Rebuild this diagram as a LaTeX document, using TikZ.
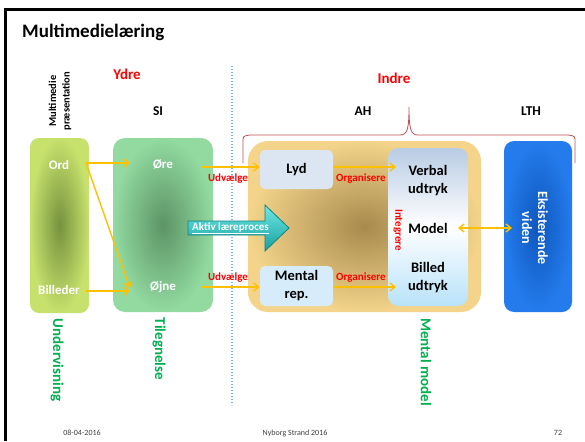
\documentclass[tikz,border=0pt]{standalone}
\usepackage{fontspec}
\setmainfont{Carlito}
\usetikzlibrary{arrows.meta}
\definecolor{orng}{HTML}{FFC000}
\definecolor{redlab}{HTML}{FF0000}
\definecolor{greenlab}{HTML}{00B050}
\definecolor{bracecol}{HTML}{C0504D}
\definecolor{dotblue}{HTML}{6CB8EA}
\definecolor{footgray}{HTML}{404040}
\tikzset{
  lbl/.style={font=\bfseries\fontsize{13.5}{15}\selectfont, text=black, align=center, inner sep=0pt},
  wlbl/.style={font=\bfseries\fontsize{13}{15}\selectfont, text=white, align=center, inner sep=0pt},
  redl/.style={font=\bfseries\fontsize{11}{12}\selectfont, text=redlab, inner sep=0pt},
  bigred/.style={font=\bfseries\fontsize{15}{16}\selectfont, text=redlab, inner sep=0pt},
  greenl/.style={font=\bfseries\fontsize{15}{16}\selectfont, text=greenlab, inner sep=0pt, rotate=-90},
  foot/.style={font=\fontsize{8}{9}\selectfont, text=footgray, inner sep=0pt},
  flow/.style={draw=orng, line width=1.4pt, -{Straight Barb[length=5pt,width=8pt]}},
  dflow/.style={draw=orng, line width=1.4pt, {Straight Barb[length=5pt,width=8pt]}-{Straight Barb[length=5pt,width=8pt]}},
  smallbox/.style={rounded corners=5pt, inner sep=0pt, minimum width=73pt, minimum height=39pt, font=\bfseries\fontsize{14.5}{18}\selectfont, align=center}
}
\begin{document}
\begin{tikzpicture}[x=1pt,y=-1pt]
\useasboundingbox (0,0) rectangle (585,441);
\fill[white] (0,0) rectangle (585,441);
% frame
\fill[black] (4,8) rectangle (585,11);
\fill[black] (4,8) rectangle (7,441);
% title
\node[anchor=west, font=\bfseries\fontsize{19}{20}\selectfont, inner sep=0pt] (title) at (22,32) {Multimedielæring};
% header labels
\node[rotate=90, font=\bfseries\fontsize{10.5}{13.5}\selectfont, align=center, inner sep=0pt] (mp) at (60,101) {Multimedie\\præsentation};
\node[bigred] (ydre) at (127,74) {Ydre};
\node[bigred] (indre) at (394,78) {Indre};
\node[lbl] (si) at (158,111) {SI};
\node[lbl] (ah) at (363,111) {AH};
\node[lbl] (lth) at (531,111) {LTH};
% dotted divider
\coordinate (dtop) at (232,66);
\coordinate (dbot) at (232,405);
\draw[dotblue, line width=1.2pt, dash pattern=on 1.2pt off 1.8pt] (dtop) -- (dbot);
% brace
\draw[bracecol, line width=0.8pt] (243,163) -- (243,142) .. controls (243,136) .. (250,135) -- (400,135) .. controls (407,135) and (409,130) .. (409,107) .. controls (409,130) and (411,135) .. (418,135) -- (568,135) .. controls (575,136) .. (575,142) -- (575,163);
% left box
\path[rounded corners=9pt, inner color={rgb,255:red,118;green,146;blue,62}, outer color={rgb,255:red,198;green,225;blue,108}] (30,138) rectangle (89,313);
\node[wlbl] (ord) at (59,165) {Ord};
\node[wlbl] (bil) at (59,290) {Billeder};
% SI box
\path[rounded corners=12pt, inner color={rgb,255:red,92;green,148;blue,102}, outer color={rgb,255:red,146;green,218;blue,160}] (113,138) rectangle (213,312);
\node[wlbl] (ore) at (163,164) {Øre};
\node[wlbl] (ojne) at (163,287) {Øjne};
% AH box
\path[rounded corners=20pt, inner color={rgb,255:red,168;green,138;blue,78}, outer color={rgb,255:red,243;green,212;blue,138}] (248,141) rectangle (481,312);
% LTH box
\path[rounded corners=10pt, inner color={rgb,255:red,14;green,86;blue,190}, outer color={rgb,255:red,36;green,124;blue,236}] (504,141) rectangle (572,312);
\node[wlbl, rotate=-90, font=\bfseries\fontsize{14}{16}\selectfont] (eks) at (535,228) {Eksisterende\\viden};
% small boxes
\node[smallbox, fill={rgb,255:red,220;green,230;blue,242}] (lyd) at (296.5,169.5) {Lyd};
\node[smallbox, fill={rgb,255:red,214;green,236;blue,250}, minimum height=40pt] (ment) at (296.5,286) {Mental\\rep.};
% inner model box
\path[rounded corners=10pt, top color={rgb,255:red,184;green,204;blue,228}, bottom color={rgb,255:red,184;green,226;blue,248}, middle color=white] (388,148) rectangle (468,306);
\node[smallbox, minimum width=0pt, minimum height=0pt] (verb) at (428,181) {Verbal\\udtryk};
\node[smallbox, minimum width=0pt, minimum height=0pt] (model) at (428,228) {Model};
\node[smallbox, minimum width=0pt, minimum height=0pt] (billed) at (428,278) {Billed\\udtryk};
\node[redl, rotate=-90] (integ) at (398,230) {Integrere};
% aktiv laereproces arrow
\path[draw={rgb,255:red,20;green,130;blue,130}, line width=0.8pt, top color={rgb,255:red,110;green,232;blue,228}, bottom color={rgb,255:red,24;green,160;blue,160}] (188,221) -- (265,221) -- (265,205) -- (289,228) -- (265,251) -- (265,235) -- (188,235) -- cycle;
\node[font=\bfseries\fontsize{11}{12}\selectfont, text=white, inner sep=0pt, anchor=west] (aktiv) at (192,228) {\underline{Aktiv læreproces}};
% connectors
\coordinate (ordR) at (86,163);
\coordinate (bilR) at (86,291);
\coordinate (oreL) at (130,163);
\coordinate (ojneL) at (130,288);
\coordinate (ojneL2) at (130,291);
\draw[flow] (ordR) -- (oreL);
\draw[flow] (ordR) -- (ojneL);
\draw[flow] (bilR) -- (ojneL2);
\coordinate (siR1) at (202,167);
\coordinate (siR2) at (202,287);
\draw[flow] (siR1) -- (lyd.west |- siR1);
\draw[flow] (siR2) -- (ment.west |- siR2);
\node[redl] (udv1) at (228,179) {Udvælge};
\node[redl] (udv2) at (228,278) {Udvælge};
\coordinate (vin1) at (396,167);
\coordinate (vin2) at (396,287);
\draw[flow] (lyd.east |- vin1) -- (vin1);
\draw[flow] (ment.east |- vin2) -- (vin2);
\node[redl] (org1) at (361,179) {Organisere};
\node[redl] (org2) at (361,278) {Organisere};
\coordinate (mR) at (458,228);
\coordinate (eL) at (512,228);
\draw[dflow] (mR) -- (eL);
% green vertical labels
\node[greenl] (underv) at (57,360) {Undervisning};
\node[greenl] (tileg) at (159,349) {Tilegnelse};
\node[greenl] (mental) at (426,362) {Mental model};
% footer
\node[foot] (date) at (82,433) {08-04-2016};
\node[foot] (place) at (295,433) {Nyborg Strand 2016};
\node[foot] (page) at (558,433) {72};
\end{tikzpicture}
\end{document}
